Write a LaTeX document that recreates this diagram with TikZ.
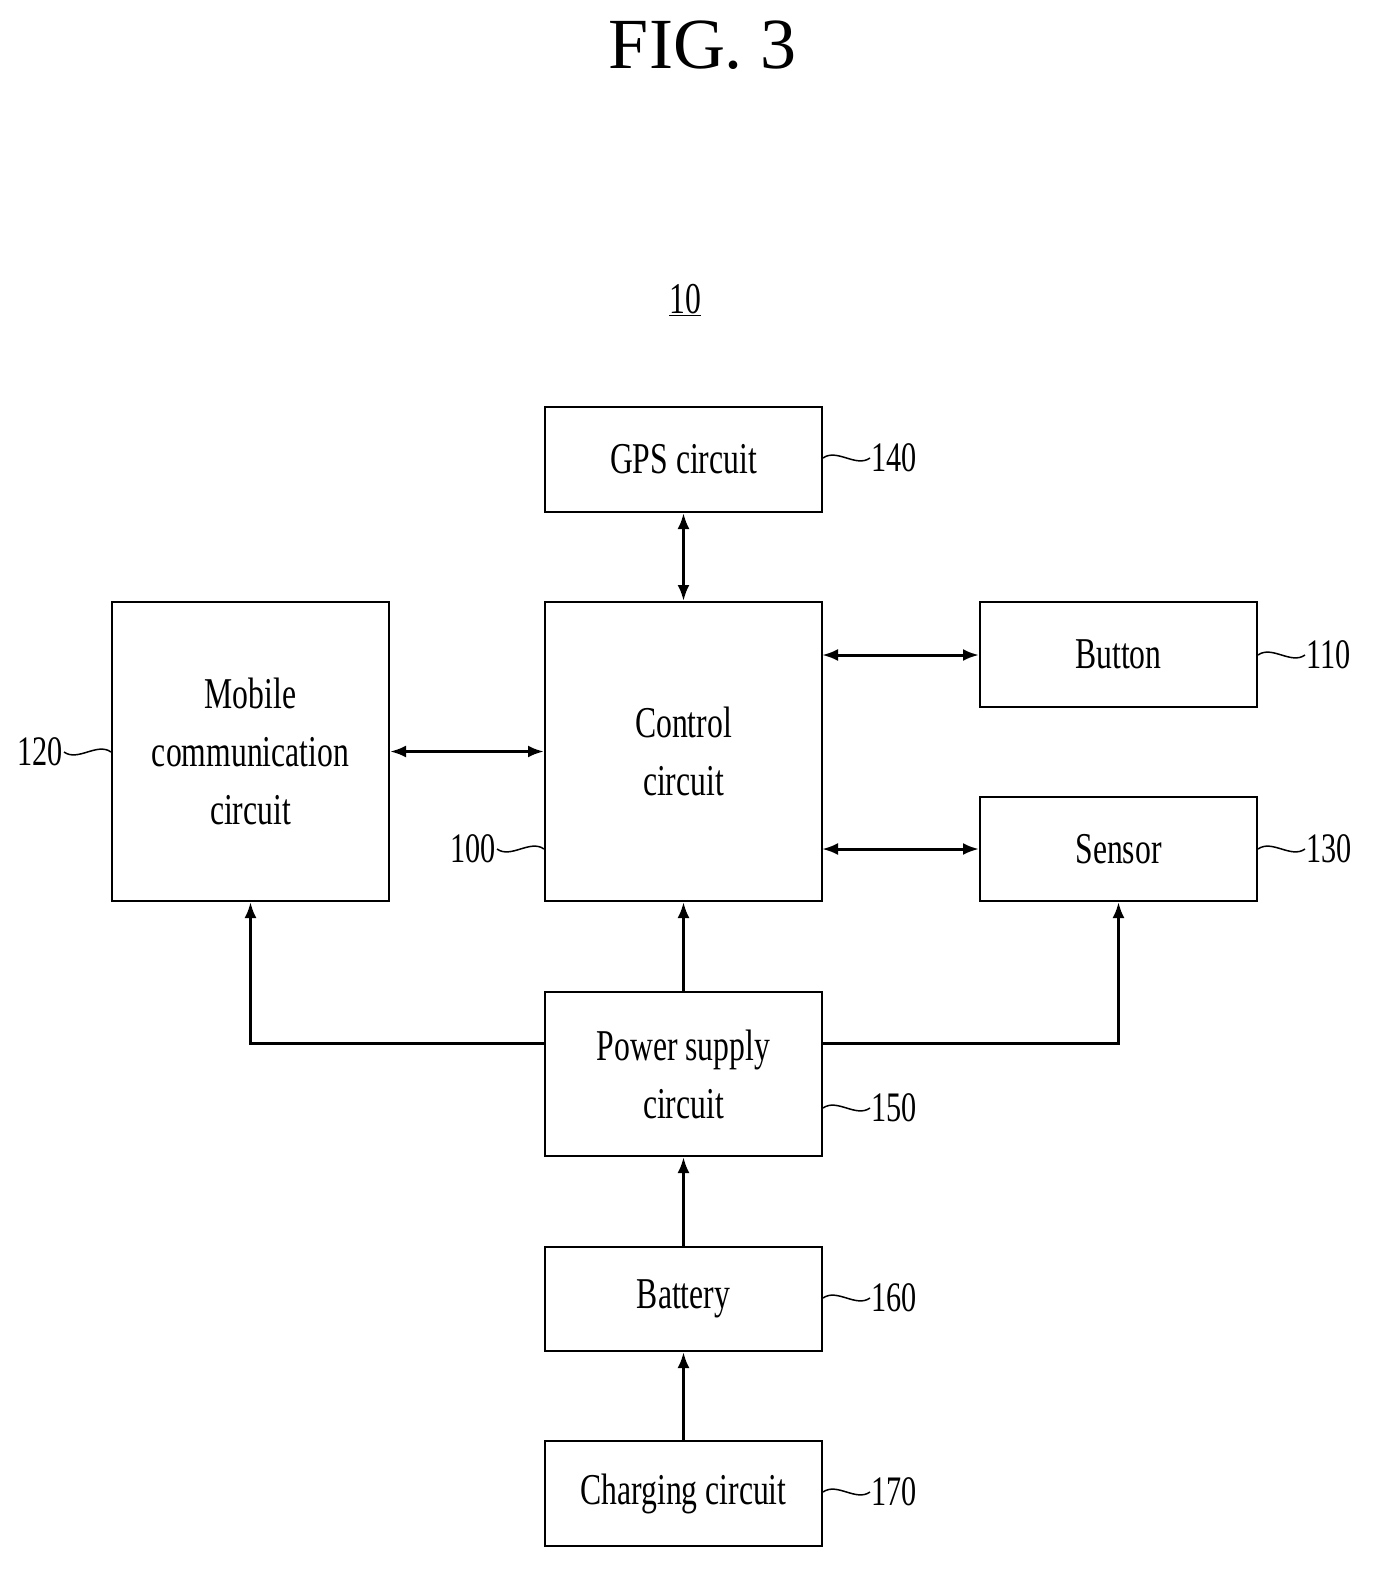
\documentclass[tikz,border=0pt]{standalone}
\usepackage{fontspec}
\setmainfont{Liberation Serif}
\newfontfamily\cond[FakeStretch=0.72]{Liberation Serif}
\usetikzlibrary{arrows.meta}
\begin{document}
\begin{tikzpicture}[x=1pt,y=-1pt,
  box/.style={draw,line width=2pt,inner sep=0pt,align=center,font=\cond\fontsize{44}{58}\selectfont},
  con/.style={line width=3pt,-{Latex[length=16pt,width=12pt]}},
  bi/.style={line width=3pt,{Latex[length=16pt,width=12pt]}-{Latex[length=16pt,width=12pt]}},
  lbl/.style={font=\cond\fontsize{42}{50}\selectfont,inner sep=1pt},
  lead/.style={line width=1.5pt}]
\useasboundingbox (0,0) rectangle (1384,1583);
\node[font=\fontsize{72}{80}\selectfont] (title) at (703,45) {FIG. 3};
\node[font=\cond\fontsize{44}{50}\selectfont] (ten) at (685,300) {\underline{10}};
\newcommand\bx[6]{\node[box,minimum width=#4-#2,minimum height=#5-#3] (#1) at ({(#2+#4)/2},{(#3+#5)/2}) {#6};}
\bx{gps}{545}{407}{822}{512}{GPS circuit}
\bx{ctrl}{545}{602}{822}{901}{Control\\circuit}
\bx{mob}{112}{602}{389}{901}{Mobile\\communication\\circuit}
\bx{btn}{980}{602}{1257}{707}{Button}
\bx{sen}{980}{797}{1257}{901}{Sensor}
\bx{pow}{545}{992}{822}{1156}{Power supply\\circuit}
\bx{bat}{545}{1247}{822}{1351}{Battery}
\bx{chg}{545}{1441}{822}{1546}{Charging circuit}
\draw[bi] (gps) -- (ctrl);
\draw[bi] (mob) -- (ctrl);
\coordinate (cb) at (822,655); \coordinate (cs) at (822,849);
\draw[bi] (cb) -- (cb -| btn.west);
\draw[bi] (cs) -- (cs -| sen.west);
\draw[con] (pow) -- (ctrl);
\coordinate (pl) at (545,1043); \coordinate (pr) at (822,1043);
\draw[con] (pl) -| (mob.south);
\draw[con] (pr) -| (sen.south);
\draw[con] (bat) -- (pow);
\draw[con] (chg) -- (bat);
\node[lbl,anchor=west] (l140) at (870,458) {140};
\node[lbl,anchor=west] (l110) at (1305,655) {110};
\node[lbl,anchor=west] (l130) at (1305,849) {130};
\node[lbl,anchor=east] (l120) at (64,752) {120};
\node[lbl,anchor=east] (l100) at (497,849) {100};
\node[lbl,anchor=west] (l150) at (870,1108) {150};
\node[lbl,anchor=west] (l160) at (870,1298) {160};
\node[lbl,anchor=west] (l170) at (870,1492) {170};
\foreach \b/\l in {gps/l140,btn/l110,sen/l130,pow/l150,bat/l160,chg/l170}
  \draw[lead] (\b.east |- \l) .. controls +(14,-10) and +(-14,10) .. (\l.west);
\foreach \b/\l in {mob/l120,ctrl/l100}
  \draw[lead] (\b.west |- \l) .. controls +(-14,-10) and +(14,10) .. (\l.east);
\end{tikzpicture}
\end{document}
